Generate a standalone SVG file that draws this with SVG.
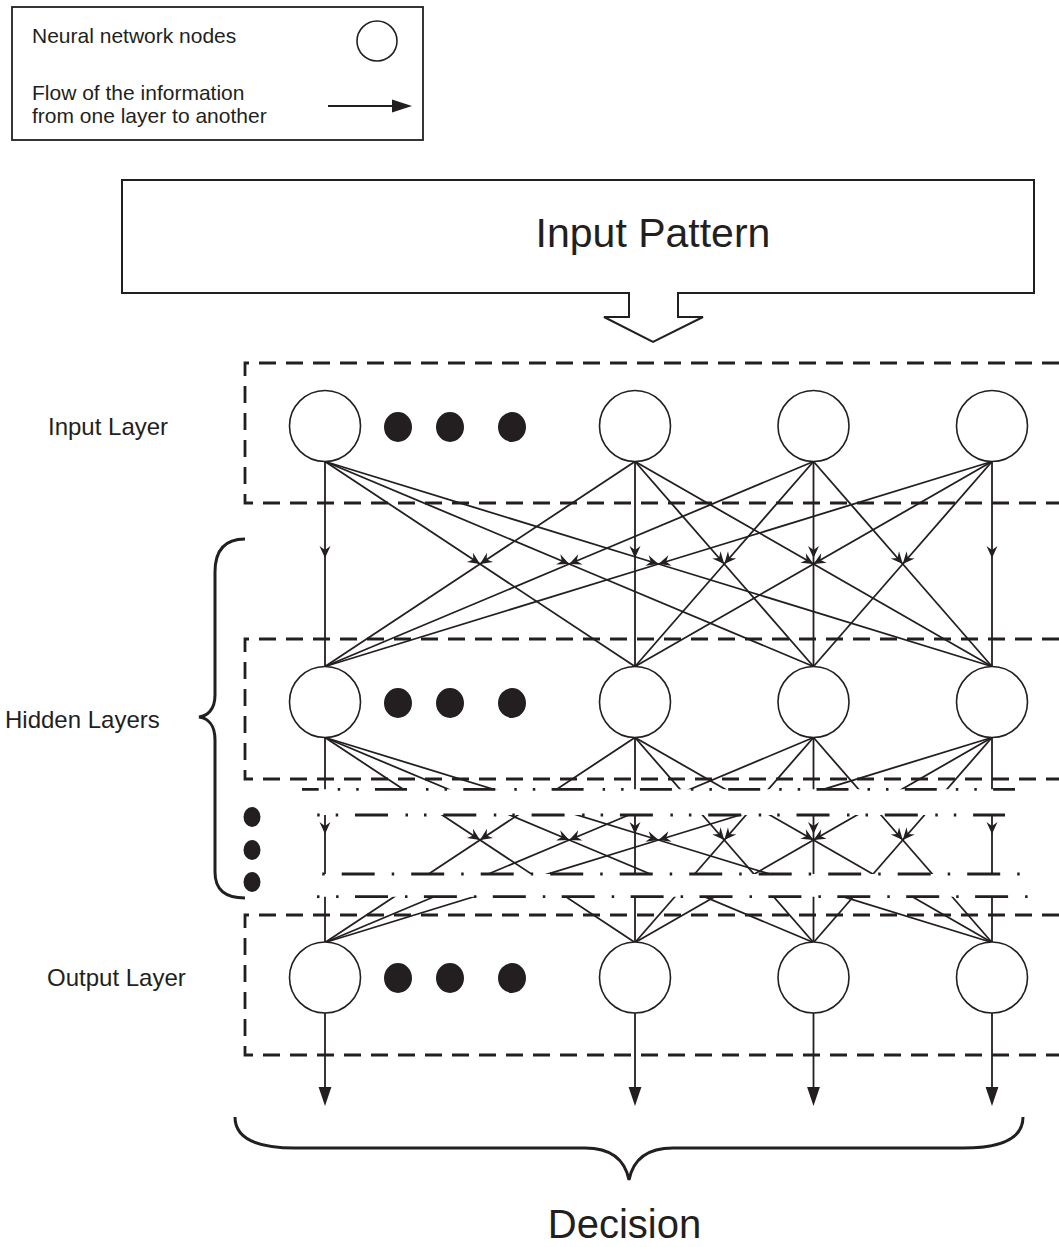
<svg xmlns="http://www.w3.org/2000/svg" width="1059" height="1247" viewBox="0 0 1059 1247">
<style>
text{font-family:"Liberation Sans",Arial,sans-serif;fill:#231f20}
.node{fill:#fff;stroke:#231f20;stroke-width:1.6}
.dot{fill:#231f20}
.conn path{fill:none;stroke:#231f20;stroke-width:1.8;marker-mid:url(#ah)}
.box{fill:none;stroke:#231f20;stroke-width:2.8;stroke-dasharray:17 10}
.dd{fill:none;stroke:#231f20;stroke-width:2.8}
.brace{fill:none;stroke:#231f20;stroke-width:3}
.out{stroke:#231f20;stroke-width:1.8}
</style>
<defs>
<marker id="ah" markerUnits="userSpaceOnUse" markerWidth="14" markerHeight="14" viewBox="-13 -7 14 14" refX="0" refY="0" orient="auto" overflow="visible">
<path d="M0,0 L-12,-5.5 L-8,0 L-12,5.5 Z" fill="#231f20"/>
</marker>
<clipPath id="bands">
<rect x="0" y="730" width="1059" height="59.3"/>
<rect x="0" y="815" width="1059" height="59"/>
<rect x="0" y="896.7" width="1059" height="53"/>
</clipPath>
</defs>
<rect width="1059" height="1247" fill="#fff"/>

<g id="legend">
<rect x="12" y="7" width="411" height="133" fill="none" stroke="#231f20" stroke-width="1.8"/>
<text x="32" y="43" font-size="21">Neural network nodes</text>
<circle cx="377" cy="41" r="20" class="node"/>
<text x="32" y="100" font-size="21">Flow of the information</text>
<text x="32" y="123" font-size="21">from one layer to another</text>
<line x1="328" y1="106" x2="394" y2="106" stroke="#231f20" stroke-width="2"/>
<polygon points="412,106 392,99.5 392,112.5" fill="#231f20"/>
</g>

<g id="input-pattern">
<path d="M122,180 H1034 V293 H678 V317 H703 L653,342 L604,317 H629 V293 H122 Z" fill="#fff" stroke="#231f20" stroke-width="2"/>
<text x="653" y="247" font-size="41" text-anchor="middle">Input Pattern</text>
</g>

<g id="layer-boxes">
<path class="box" d="M1059,363 H245 V503 H1059"/>
<path class="box" d="M1059,639 H245 V779 H1059"/>
<path class="box" d="M1059,915 H245 V1055 H1059"/>
</g>

<g id="dashdot-lines">
<line class="dd" x1="302" y1="789.3" x2="1015" y2="789.3" stroke-dasharray="32 19 2.5 16 2.5 16.3" stroke-dashoffset="15.3"/>
<line class="dd" x1="316" y1="815" x2="1005" y2="815" stroke-dasharray="33 17.5 2.5 16 2.5 16.8" stroke-dashoffset="49.3"/>
<line class="dd" x1="321" y1="874" x2="1020" y2="874" stroke-dasharray="33 17 2.5 17" stroke-dashoffset="48.8"/>
<line class="dd" x1="317" y1="896.7" x2="319.5" y2="896.7"/>
<line class="dd" x1="335" y1="896.7" x2="1031" y2="896.7" stroke-dasharray="33 17 2.5 16.4" stroke-dashoffset="48.9"/>
</g>

<g id="connectors">
<g class="conn">
<path d="M325,461.5 L325,558 L325,666.5"/>
<path d="M325,461.5 L480,564 L635,666.5"/>
<path d="M325,461.5 L569.25,564 L813.5,666.5"/>
<path d="M325,461.5 L658.5,564 L992,666.5"/>
<path d="M635,461.5 L480,564 L325,666.5"/>
<path d="M635,461.5 L635,558 L635,666.5"/>
<path d="M635,461.5 L724.25,564 L813.5,666.5"/>
<path d="M635,461.5 L813.5,564 L992,666.5"/>
<path d="M813.5,461.5 L569.25,564 L325,666.5"/>
<path d="M813.5,461.5 L724.25,564 L635,666.5"/>
<path d="M813.5,461.5 L813.5,558 L813.5,666.5"/>
<path d="M813.5,461.5 L902.75,564 L992,666.5"/>
<path d="M992,461.5 L658.5,564 L325,666.5"/>
<path d="M992,461.5 L813.5,564 L635,666.5"/>
<path d="M992,461.5 L902.75,564 L813.5,666.5"/>
<path d="M992,461.5 L992,558 L992,666.5"/>
</g>
<g class="conn" clip-path="url(#bands)">
<path d="M325,737.5 L325,834 L325,942.5"/>
<path d="M325,737.5 L480,840 L635,942.5"/>
<path d="M325,737.5 L569.25,840 L813.5,942.5"/>
<path d="M325,737.5 L658.5,840 L992,942.5"/>
<path d="M635,737.5 L480,840 L325,942.5"/>
<path d="M635,737.5 L635,834 L635,942.5"/>
<path d="M635,737.5 L724.25,840 L813.5,942.5"/>
<path d="M635,737.5 L813.5,840 L992,942.5"/>
<path d="M813.5,737.5 L569.25,840 L325,942.5"/>
<path d="M813.5,737.5 L724.25,840 L635,942.5"/>
<path d="M813.5,737.5 L813.5,834 L813.5,942.5"/>
<path d="M813.5,737.5 L902.75,840 L992,942.5"/>
<path d="M992,737.5 L658.5,840 L325,942.5"/>
<path d="M992,737.5 L813.5,840 L635,942.5"/>
<path d="M992,737.5 L902.75,840 L813.5,942.5"/>
<path d="M992,737.5 L992,834 L992,942.5"/>
</g>
<g id="outputs">
<line class="out" x1="325" y1="1013" x2="325" y2="1090"/>
<polygon points="325,1106 318.6,1087 331.4,1087" fill="#231f20"/>
<line class="out" x1="635" y1="1013" x2="635" y2="1090"/>
<polygon points="635,1106 628.6,1087 641.4,1087" fill="#231f20"/>
<line class="out" x1="813.5" y1="1013" x2="813.5" y2="1090"/>
<polygon points="813.5,1106 807.1,1087 819.9,1087" fill="#231f20"/>
<line class="out" x1="992" y1="1013" x2="992" y2="1090"/>
<polygon points="992,1106 985.6,1087 998.4,1087" fill="#231f20"/>
</g>
</g>

<g id="input-layer">
<text x="48" y="435" font-size="24">Input Layer</text>
<circle id="in1" class="node" cx="325" cy="426" r="35.5"/>
<ellipse class="dot" cx="398" cy="427" rx="14" ry="15"/>
<ellipse class="dot" cx="450" cy="427" rx="14" ry="15"/>
<ellipse class="dot" cx="512" cy="427" rx="14" ry="15"/>
<circle id="in2" class="node" cx="635" cy="426" r="35.5"/>
<circle id="in3" class="node" cx="813.5" cy="426" r="35.5"/>
<circle id="in4" class="node" cx="992" cy="426" r="35.5"/>
</g>

<g id="hidden-layer">
<text x="5" y="728" font-size="24">Hidden Layers</text>
<path class="brace" d="M245,539 C225,539 215,550 215,572 L215,695 C215,710 207,716 199,717 C207,718 215,724 215,740 L215,872 C215,890 225,898 245,898"/>
<circle id="h1" class="node" cx="325" cy="702" r="35.5"/>
<ellipse class="dot" cx="398" cy="703" rx="14" ry="15"/>
<ellipse class="dot" cx="450" cy="703" rx="14" ry="15"/>
<ellipse class="dot" cx="512" cy="703" rx="14" ry="15"/>
<circle id="h2" class="node" cx="635" cy="702" r="35.5"/>
<circle id="h3" class="node" cx="813.5" cy="702" r="35.5"/>
<circle id="h4" class="node" cx="992" cy="702" r="35.5"/>
<ellipse class="dot" cx="252" cy="817" rx="8.5" ry="10"/>
<ellipse class="dot" cx="252" cy="850" rx="8.5" ry="10"/>
<ellipse class="dot" cx="252" cy="882" rx="8.5" ry="10"/>
</g>

<g id="output-layer">
<text x="47" y="986" font-size="24">Output Layer</text>
<circle id="o1" class="node" cx="325" cy="977.5" r="35.5"/>
<ellipse class="dot" cx="398" cy="978" rx="14" ry="15"/>
<ellipse class="dot" cx="450" cy="978" rx="14" ry="15"/>
<ellipse class="dot" cx="512" cy="978" rx="14" ry="15"/>
<circle id="o2" class="node" cx="635" cy="977.5" r="35.5"/>
<circle id="o3" class="node" cx="813.5" cy="977.5" r="35.5"/>
<circle id="o4" class="node" cx="992" cy="977.5" r="35.5"/>
</g>

<g id="decision">
<path class="brace" d="M235,1117 C235,1138 255,1148 295,1148 L585,1148 C612,1148 625,1160 629,1180 C633,1160 646,1148 673,1148 L963,1148 C1003,1148 1023,1138 1023,1117"/>
<text x="624.5" y="1238" font-size="40" text-anchor="middle">Decision</text>
</g>
</svg>
